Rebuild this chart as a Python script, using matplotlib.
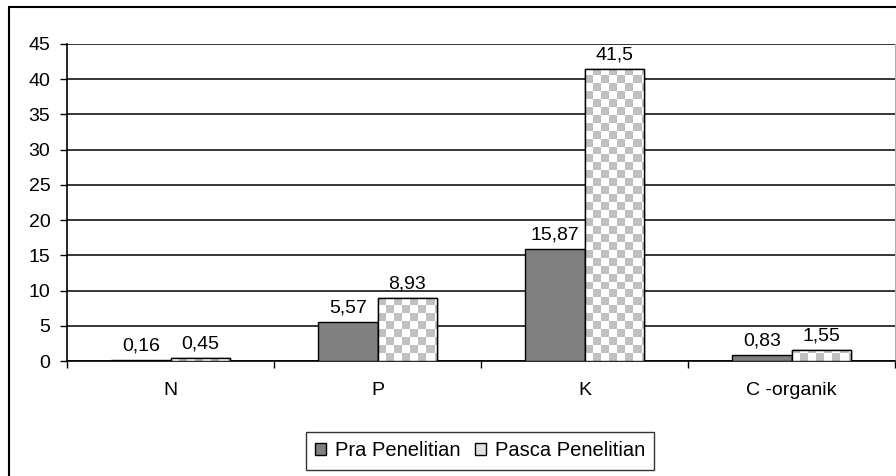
import numpy as np
import matplotlib
matplotlib.use("Agg")
import matplotlib.pyplot as plt
from matplotlib.patches import Rectangle, Patch

plt.rcParams['font.family'] = ['Liberation Sans', 'DejaVu Sans']

categories = ["N", "P", "K", "C -organik"]
pra = [0.16, 5.57, 15.87, 0.83]
pasca = [0.45, 8.93, 41.5, 1.55]
labels_pra = ["0,16", "5,57", "15,87", "0,83"]
labels_pasca = ["0,45", "8,93", "41,5", "1,55"]
yticks = [0, 5, 10, 15, 20, 25, 30, 35, 40, 45]

FS = 14

fig = plt.figure(figsize=(8.96, 4.76), dpi=100)
# outer chart frame (right and bottom edges fall outside the image)
fig.patches.append(Rectangle((9 / 896, -0.05), 1.0, 1.05 - 7.5 / 476,
                             transform=fig.transFigure, fill=False,
                             edgecolor='black', linewidth=1.5))

ax = fig.add_axes([67 / 896, 1 - 361 / 476, 828 / 896, 317 / 476])
x = np.arange(len(categories))
w = 1 / 3.5

ax.set_xlim(-0.5, len(categories) - 0.5)
ax.set_ylim(0, 45)
ax.set_yticks(yticks)
ax.tick_params(axis='y', length=5, width=1, labelsize=FS, pad=7)
ax.yaxis.grid(True, color='black', linewidth=1.1)
ax.set_axisbelow(True)
ax.spines['top'].set_visible(False)
ax.spines['right'].set_color('#b0b0b0')
ax.spines['left'].set_linewidth(1.2)
ax.spines['bottom'].set_linewidth(1.2)

# x ticks at category boundaries, labels as minor ticks
ax.set_xticks(np.arange(-0.5, len(categories), 1.0))
ax.set_xticklabels([])
ax.tick_params(axis='x', which='major', length=5, width=1)
ax.set_xticks(x, minor=True)
ax.set_xticklabels(categories, minor=True)
ax.tick_params(axis='x', which='minor', length=0, labelsize=FS, pad=15)

bars_pra = ax.bar(x - w / 2, pra, w, color='#808080', edgecolor='black', linewidth=1, zorder=3)
bars_pasca = ax.bar(x + w / 2, pasca, w, color='white', edgecolor='black', linewidth=1, zorder=3)

# checkerboard fill for Pasca bars
rows, cols = 40, 104
checker = (np.add.outer(np.arange(rows), np.arange(cols)) % 2).astype(float)
cmap = matplotlib.colors.ListedColormap(['white', '#c0c0c0'])
for b in bars_pasca:
    im = ax.imshow(checker, cmap=cmap, extent=(0, 1, 0, 1), transform=ax.transAxes,
                   aspect='auto', interpolation='nearest', zorder=3.5)
    im.set_clip_path(b)
    ax.add_patch(Rectangle(b.get_xy(), b.get_width(), b.get_height(), fill=False,
                           edgecolor='black', linewidth=1, zorder=4))
ax.set_xlim(-0.5, len(categories) - 0.5)
ax.set_ylim(0, 45)

for bars, labels in [(bars_pra, labels_pra), (bars_pasca, labels_pasca)]:
    for b, t in zip(bars, labels):
        ax.annotate(t, (b.get_x() + b.get_width() / 2, b.get_height()),
                    xytext=(0, 4), textcoords='offset points',
                    ha='center', va='bottom', fontsize=FS)

handles = [Patch(facecolor='#808080', edgecolor='black', label='Pra Penelitian'),
           Patch(facecolor='#e0e0e0', edgecolor='black', label='Pasca Penelitian')]
leg = fig.legend(handles=handles, loc='center', bbox_to_anchor=(480 / 896, 1 - 451 / 476),
                 ncol=2, frameon=True, fancybox=False, fontsize=14.5,
                 handlelength=0.55, handleheight=0.55, handletextpad=0.45,
                 columnspacing=0.7, borderpad=0.45, borderaxespad=0)
leg.get_frame().set_edgecolor('black')
leg.get_frame().set_linewidth(1)

fig.savefig("out.png", dpi=100)
